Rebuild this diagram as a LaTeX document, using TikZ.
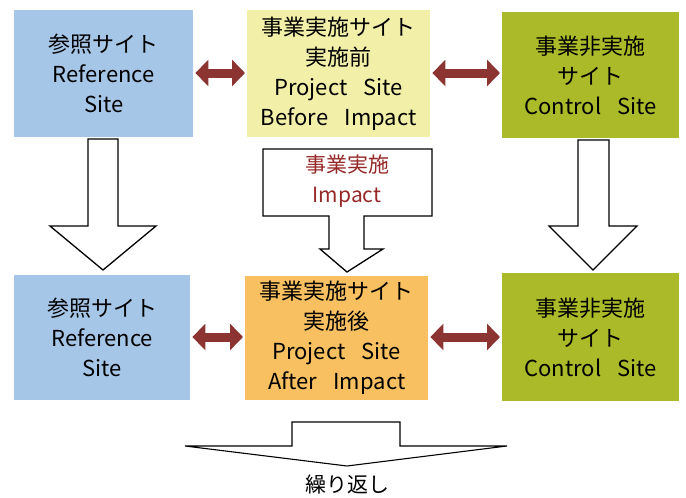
\documentclass[tikz,border=0pt]{standalone}
\usepackage{fontspec}
\setmainfont{Noto Sans CJK JP}
\usetikzlibrary{arrows.meta}
\definecolor{refblue}{RGB}{166,198,232}
\definecolor{preyel}{RGB}{242,240,168}
\definecolor{ctlgreen}{RGB}{170,186,40}
\definecolor{postorg}{RGB}{248,192,96}
\definecolor{dblred}{RGB}{140,52,50}
\definecolor{imptxt}{RGB}{150,40,40}
\newcommand{\wsp}{\hspace{0.75em}}
\tikzset{
  site/.style={align=center, font=\fontsize{22}{30}\selectfont, inner sep=0pt, anchor=north west},
  dbl/.style={draw=dblred, line width=9pt, {Triangle[width=26pt,length=13pt]}-{Triangle[width=26pt,length=13pt]}, shorten <=2pt, shorten >=2pt},
  blockarrow/.style={draw=black, line width=1.3pt, fill=white, line join=miter},
}
\begin{document}
\begin{tikzpicture}[x=1pt,y=-1pt]
\useasboundingbox (0,0) rectangle (686,498);
% top row
\node[site, fill=refblue, minimum width=179pt, minimum height=127pt] (rb1) at (14,10) {参照サイト\\Reference\\Site};
\node[site, fill=preyel, minimum width=183pt, minimum height=127pt] (py1) at (247,10) {事業実施サイト\\実施前\\Project\wsp Site\\Before\wsp Impact};
\node[site, fill=ctlgreen, minimum width=177pt, minimum height=126pt] (cg1) at (502,12) {事業非実施\\サイト\\Control\wsp Site};
% bottom row
\node[site, fill=refblue, minimum width=176pt, minimum height=125pt] (rb2) at (14,275) {参照サイト\\Reference\\Site};
\node[site, fill=postorg, minimum width=183pt, minimum height=124pt] (po2) at (245,276) {事業実施サイト\\実施後\\Project\wsp Site\\After\wsp Impact};
\node[site, fill=ctlgreen, minimum width=177pt, minimum height=128pt] (cg2) at (502,273) {事業非実施\\サイト\\Control\wsp Site};
% double arrows
\draw[dbl] (rb1.east |- 0,73) -- (py1.west |- 0,73);
\draw[dbl] (py1.east |- 0,73) -- (cg1.west |- 0,73);
\draw[dbl] (rb2.east |- 0,337) -- (po2.west |- 0,337);
\draw[dbl] (po2.east |- 0,337) -- (cg2.west |- 0,337);
% left block arrow
\draw[blockarrow] (88,139) -- (118,139) -- (118,226) -- (156,226) -- (103,270) -- (50,226) -- (88,226) -- cycle;
% right block arrow
\draw[blockarrow] (578,140) -- (609,140) -- (609,226) -- (637,226) -- (593,270) -- (549,226) -- (578,226) -- cycle;
% impact arrow
\draw[blockarrow] (263,149) -- (432,149) -- (432,216) -- (364,216) -- (364,249) -- (383,249) -- (347,272) -- (320,249) -- (329,249) -- (329,216) -- (263,216) -- cycle;
\node[align=center, text=imptxt, font=\fontsize{21}{30}\selectfont, inner sep=0pt] (imp) at (347,181) {事業実施\\Impact};
% repeat arrow
\draw[blockarrow, line width=1.1pt] (292,446) -- (292,422) -- (400,422) -- (400,446) -- (507,446) -- (347,466) -- (185,446) -- cycle;
\node[font=\fontsize{21}{24}\selectfont, inner sep=0pt] (rep) at (347,484) {繰り返し};
\end{tikzpicture}
\end{document}
